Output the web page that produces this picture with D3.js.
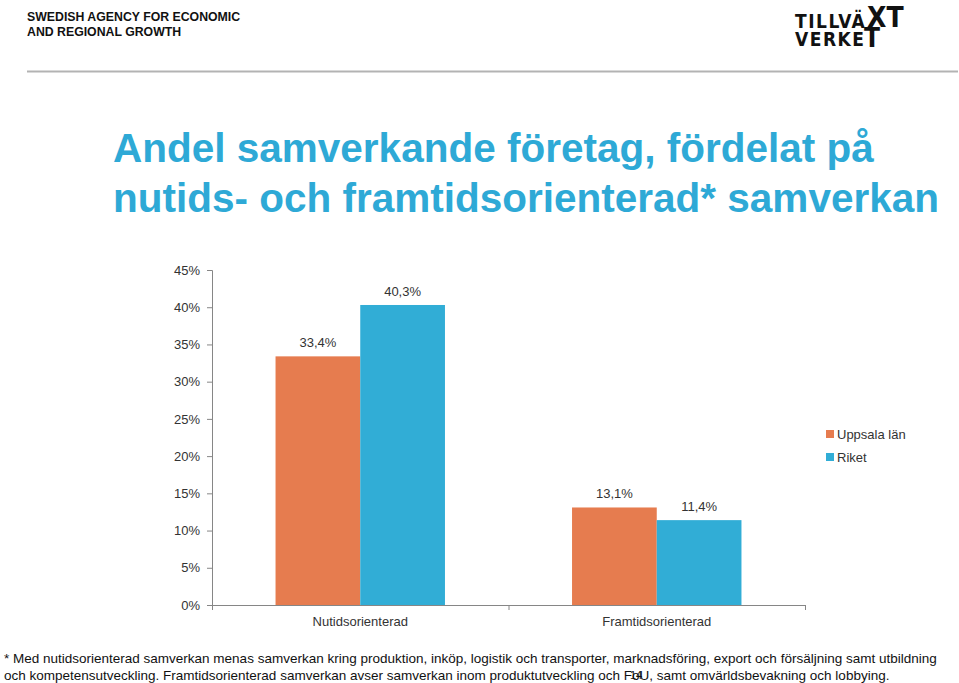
<!DOCTYPE html>
<html>
<head>
<meta charset="utf-8">
<script src="https://cdn.jsdelivr.net/npm/d3@7"></script>
<style>
  html, body { margin: 0; padding: 0; background: #fff; }
  svg { display: block; font-family: Arial, "Liberation Sans", sans-serif; }
</style>
</head>
<body>
<svg id="chart" width="959" height="683"></svg>
<script>
// ---- Data ----
const categories = ["Nutidsorienterad", "Framtidsorienterad"];
const seriesNames = ["Uppsala län", "Riket"];
const uppsalaValues = [33.4, 13.1];
const riketValues = [40.3, 11.4];
const valueLabels = [["33,4%", "40,3%"], ["13,1%", "11,4%"]];
const yTicks = [0, 5, 10, 15, 20, 25, 30, 35, 40, 45];
const titleLines = ["Andel samverkande företag, fördelat på", "nutids- och framtidsorienterad* samverkan"];
const headerLines = ["SWEDISH AGENCY FOR ECONOMIC", "AND REGIONAL GROWTH"];
const footnoteLines = [
  "* Med nutidsorienterad samverkan menas samverkan kring produktion, inköp, logistik och transporter, marknadsföring, export och försäljning samt utbildning",
  "och kompetensutveckling. Framtidsorienterad samverkan avser samverkan inom produktutveckling och FoU, samt omvärldsbevakning och lobbying."
];
const pageNumber = "14";

const colors = ["#E67C4F", "#31ADD6"];

const svg = d3.select("#chart");

// ---- Header ----
svg.append("g").selectAll("text").data(headerLines).join("text")
  .attr("x", 27).attr("y", (d, i) => 21 + i * 15)
  .attr("font-size", 12.3).attr("font-weight", "bold").attr("fill", "#111")
  .text(d => d);

// Logo
const logo = svg.append("g").attr("font-family", "'DejaVu Sans Condensed', 'DejaVu Sans', sans-serif").attr("font-weight", "bold").attr("fill", "#111");
logo.append("text").attr("x", 795).attr("y", 28).attr("font-size", 19).attr("letter-spacing", 1.5).text("TILLVÄ");
logo.append("text").attr("x", 867).attr("y", 27).attr("font-size", 28).text("XT");
logo.append("text").attr("x", 795).attr("y", 46).attr("font-size", 19).attr("letter-spacing", 1.5).text("VERKE");
logo.append("text").attr("x", 864).attr("y", 47).attr("font-size", 26).text("T");

svg.append("line").attr("x1", 27).attr("x2", 958).attr("y1", 71.5).attr("y2", 71.5)
  .attr("stroke", "#b3b3b3").attr("stroke-width", 2);

// ---- Title ----
svg.append("g").selectAll("text").data(titleLines).join("text")
  .attr("x", 113).attr("y", (d, i) => 162 + i * 50)
  .attr("font-size", 40.5).attr("font-weight", "bold").attr("fill", "#2EA9D6")
  .text(d => d);

// ---- Chart ----
const x0 = d3.scaleBand().domain(categories).range([212, 805]).paddingInner(0).paddingOuter(0);
const x1 = d3.scaleBand().domain(seriesNames).range([0, x0.bandwidth()]).paddingInner(0).paddingOuter(0.75);
const y = d3.scaleLinear().domain([0, 45]).range([605, 270]);

const data = categories.map((c, i) => ({
  cat: c,
  vals: [
    { s: seriesNames[0], v: uppsalaValues[i], label: valueLabels[i][0], color: colors[0] },
    { s: seriesNames[1], v: riketValues[i], label: valueLabels[i][1], color: colors[1] }
  ]
}));

const groups = svg.append("g").selectAll("g").data(data).join("g")
  .attr("transform", d => `translate(${x0(d.cat)},0)`);

groups.selectAll("rect").data(d => d.vals).join("rect")
  .attr("x", d => x1(d.s)).attr("width", x1.bandwidth())
  .attr("y", d => y(d.v)).attr("height", d => y(0) - y(d.v))
  .attr("fill", d => d.color);

groups.selectAll("text.val").data(d => d.vals).join("text").attr("class", "val")
  .attr("x", d => x1(d.s) + x1.bandwidth() / 2)
  .attr("y", d => y(d.v) - 9)
  .attr("text-anchor", "middle").attr("font-size", 13).attr("fill", "#333")
  .text(d => d.label);

// Y axis
const yAxis = svg.append("g").attr("transform", "translate(212,0)")
  .call(d3.axisLeft(y).tickValues(yTicks).tickFormat(d => d + "%").tickSize(5).tickPadding(7));
yAxis.select(".domain").attr("stroke", "#868686");
yAxis.selectAll(".tick line").attr("stroke", "#868686");
yAxis.selectAll(".tick text").attr("font-size", 13).attr("fill", "#333").attr("font-family", "Arial, 'Liberation Sans', sans-serif");

// X axis
const xAxisG = svg.append("g").attr("transform", "translate(0,605)");
xAxisG.append("line").attr("x1", 212).attr("x2", 805).attr("y1", 0.5).attr("y2", 0.5).attr("stroke", "#868686");
const xBounds = [212, ...categories.map(c => x0(c) + x0.bandwidth())];
xAxisG.selectAll("line.t").data(xBounds).join("line").attr("class", "t")
  .attr("x1", d => d + 0.5).attr("x2", d => d + 0.5).attr("y1", 0).attr("y2", 5).attr("stroke", "#868686");
xAxisG.selectAll("text").data(categories).join("text")
  .attr("x", d => x0(d) + x0.bandwidth() / 2).attr("y", 21)
  .attr("text-anchor", "middle").attr("font-size", 13).attr("fill", "#333")
  .text(d => d);

// Legend
const legend = svg.append("g").selectAll("g").data(seriesNames).join("g")
  .attr("transform", (d, i) => `translate(826,${430 + i * 23})`);
legend.append("rect").attr("width", 8).attr("height", 8).attr("fill", (d, i) => colors[i]);
legend.append("text").attr("x", 11).attr("y", 9).attr("font-size", 13).attr("fill", "#333").text(d => d);

// Footnote
svg.append("g").selectAll("text").data(footnoteLines).join("text")
  .attr("x", 4).attr("y", (d, i) => 663 + i * 17)
  .attr("font-size", 13.5).attr("fill", "#111")
  .text(d => d);

svg.append("text").attr("x", 636).attr("y", 679).attr("text-anchor", "middle")
  .attr("font-size", 11).attr("fill", "#111").text(pageNumber);
</script>
</body>
</html>
